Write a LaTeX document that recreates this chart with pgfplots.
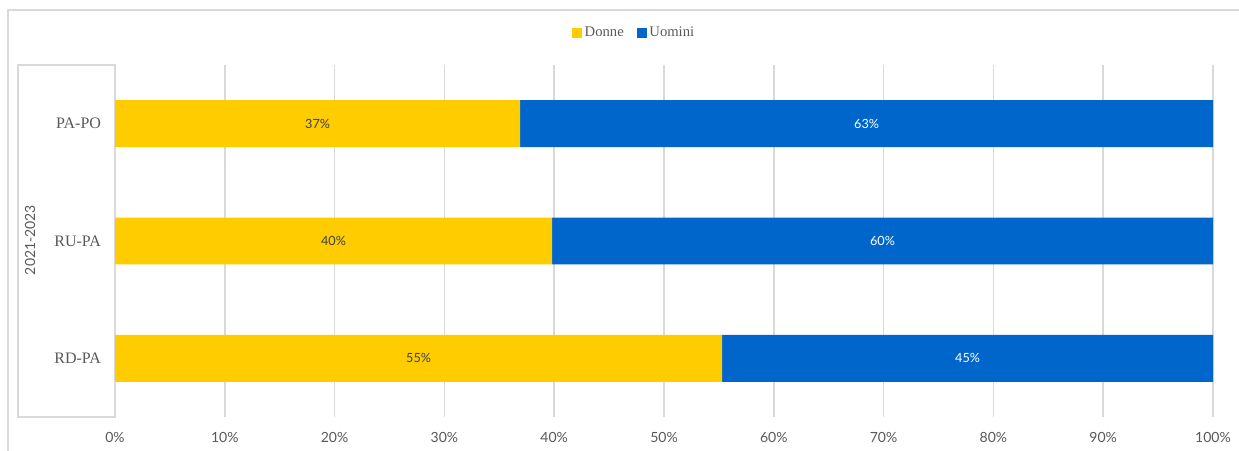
\documentclass[border=0pt]{standalone}
\usepackage{pgfplots}
\pgfplotsset{compat=1.18}
\usepackage{fontspec}
\setmainfont{Liberation Serif}
\newfontfamily\sansf{Lato}
\definecolor{donne}{HTML}{FFCC00}
\definecolor{uomini}{HTML}{0066CC}
\definecolor{txt}{HTML}{595959}
\definecolor{lbl}{HTML}{404040}
\definecolor{gridc}{HTML}{D9D9D9}
\begin{document}
\begin{tikzpicture}[x=0.75pt,y=0.75pt]
\path[use as bounding box] (0,0) rectangle (1239,450);
% chart area border
\draw[gridc, line width=1.2pt] (8,-2) -- (8,440) -- (1241,440);
% category box
\draw[gridc, line width=1.1pt] (115,385) -- (18,385) -- (18,33) -- (115,33) -- cycle;
\node[rotate=90, text=txt, font=\sansf\fontsize{10.5}{12}\selectfont] at (30,210) {2021-2023};
\begin{axis}[
  at={(86.25pt,24.75pt)}, anchor=south west,
  width=823.5pt, height=264pt, scale only axis,
  xbar stacked,
  xmin=0, xmax=100, ymin=-0.5, ymax=2.5,
  bar width=0.4,
  axis line style={draw=none},
  major tick length=0pt,
  /pgf/number format/assume math mode=true,
  xtick={0,10,...,100},
  xticklabel={\pgfmathprintnumber{\tick}\%},
  xticklabel style={font=\sansf\fontsize{10.5}{12}\selectfont, text=txt, yshift=-8pt},
  ytick={0,1,2},
  yticklabels={RD-PA,RU-PA,PA-PO},
  yticklabel style={font=\fontsize{12}{14}\selectfont, text=txt, xshift=-7pt},
  xmajorgrids, ymajorgrids=false,
  major grid style={gridc, line width=1.1pt},
  clip=false,
  legend columns=2,
  legend style={at={(0.5,1)}, anchor=center, xshift=-22pt, yshift=24pt, draw=none, fill=none,
    font=\fontsize{11}{13}\selectfont, text=txt,
    /tikz/every even column/.append style={column sep=8pt}},
  legend image code/.code={\fill[#1,draw=none] (0pt,-3.6pt) rectangle (7.2pt,3.6pt);},
  point meta=explicit,
  nodes near coords={\pgfmathprintnumber[fixed,precision=0]{\pgfplotspointmeta}\%},
  every node near coord/.append style={anchor=center, font=\sansf\fontsize{9.5}{11}\selectfont},
]
\addplot[fill=donne, draw=none, nodes near coords style={text=lbl}] coordinates {(55.3,0) [55.3] (39.8,1) [39.8] (36.9,2) [36.9]};
\addplot[fill=uomini, draw=none, nodes near coords style={text=white}] coordinates {(44.7,0) [44.7] (60.2,1) [60.2] (63.1,2) [63.1]};
\legend{Donne, Uomini}
\end{axis}
\end{tikzpicture}
\end{document}
